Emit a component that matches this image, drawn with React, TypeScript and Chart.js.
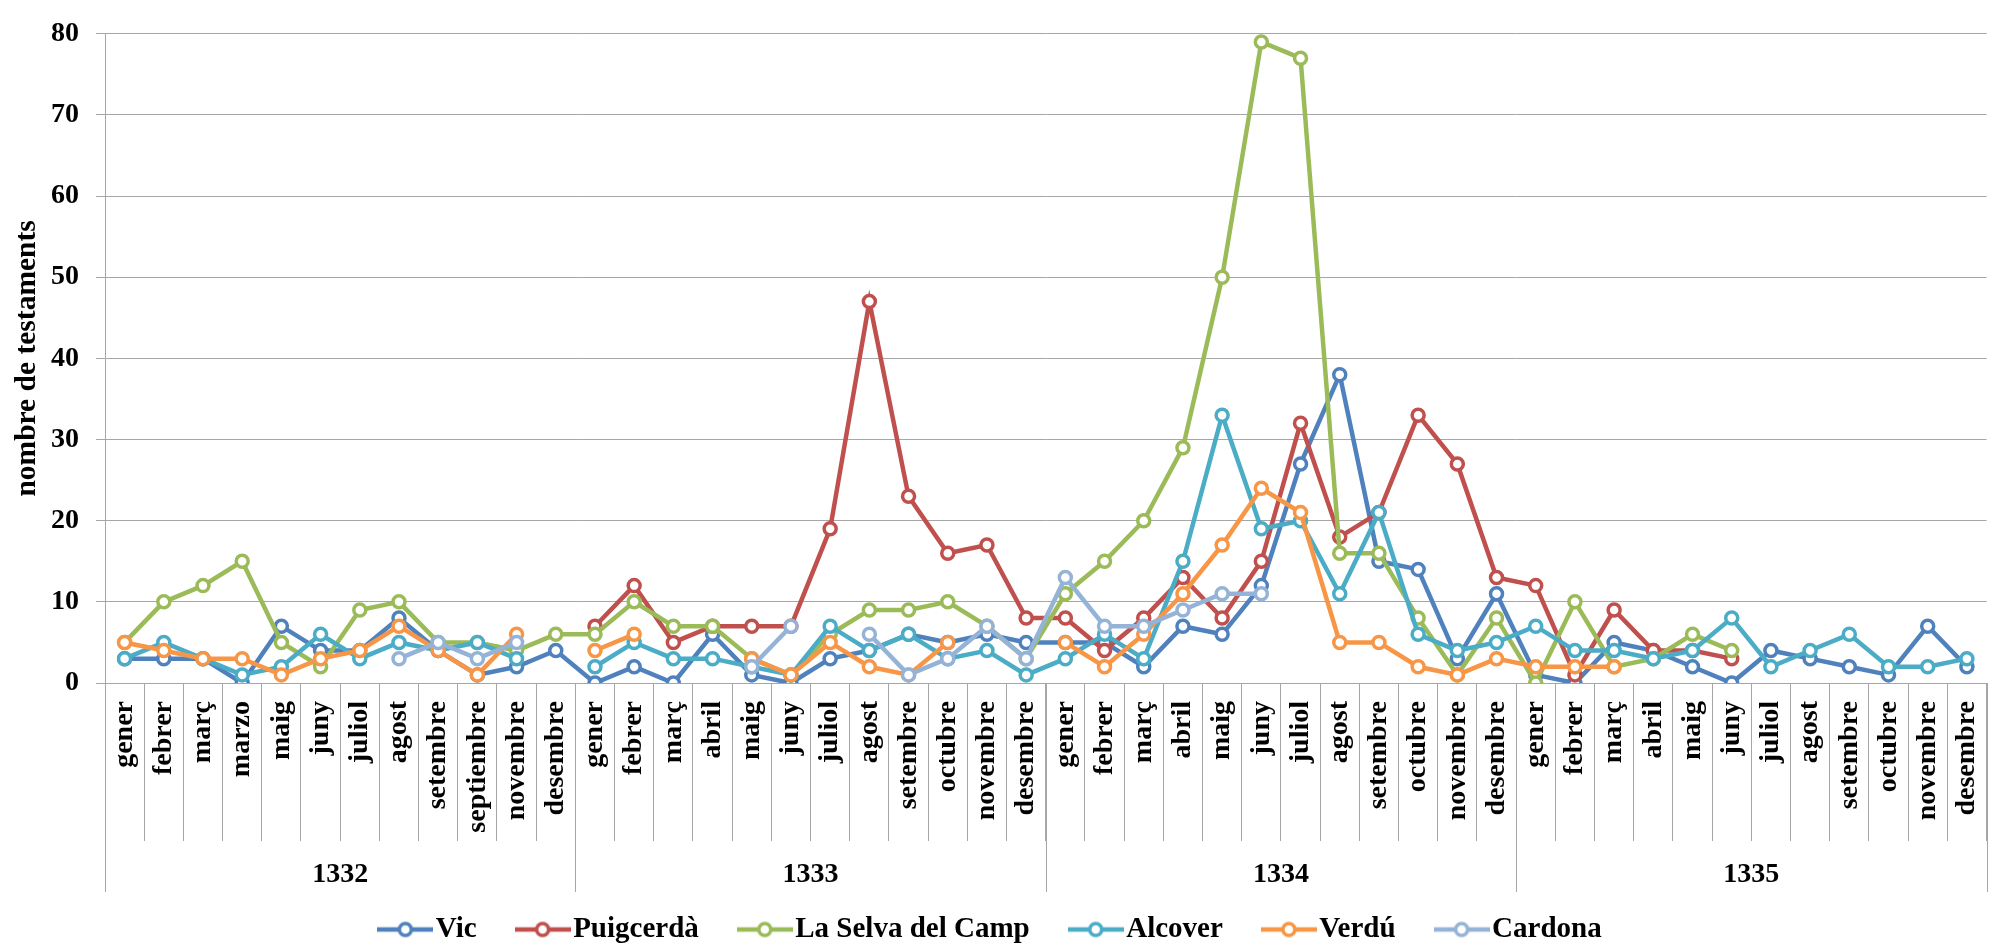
import React, { useEffect, useRef } from "react";
import { Chart, registerables } from "chart.js";

Chart.register(...registerables);

const years = ["1332", "1333", "1334", "1335"];
const months1332 = ["gener", "febrer", "març", "marzo", "maig", "juny", "juliol", "agost", "setembre", "septiembre", "novembre", "desembre"];
const monthsStd = ["gener", "febrer", "març", "abril", "maig", "juny", "juliol", "agost", "setembre", "octubre", "novembre", "desembre"];

const seriesNames = ["Vic", "Puigcerdà", "La Selva del Camp", "Alcover", "Verdú", "Cardona"];
const seriesColors = ["#4F81BD", "#C0504D", "#9BBB59", "#4BACC6", "#F79646", "#95B3D7"];

const vic = [3, 3, 3, 0, 7, 4, 4, 8, 4, 1, 2, 4,
  0, 2, 0, 6, 1, 0, 3, 4, 6, 5, 6, 5,
  5, 5, 2, 7, 6, 12, 27, 38, 15, 14, 3, 11,
  1, 0, 5, 4, 2, 0, 4, 3, 2, 1, 7, 2];
const puigcerda = [null, null, null, null, null, null, null, null, null, null, null, null,
  7, 12, 5, 7, 7, 7, 19, 47, 23, 16, 17, 8,
  8, 4, 8, 13, 8, 15, 32, 18, 21, 33, 27, 13,
  12, 1, 9, 4, 4, 3, null, null, null, null, null, null];
const selva = [5, 10, 12, 15, 5, 2, 9, 10, 5, 5, 4, 6,
  6, 10, 7, 7, 3, 1, 6, 9, 9, 10, 7, 3,
  11, 15, 20, 29, 50, 79, 77, 16, 16, 8, 1, 8,
  0, 10, 2, 3, 6, 4, null, null, null, null, null, null];
const alcover = [3, 5, 3, 1, 2, 6, 3, 5, 4, 5, 3, null,
  2, 5, 3, 3, 2, 1, 7, 4, 6, 3, 4, 1,
  3, 6, 3, 15, 33, 19, 20, 11, 21, 6, 4, 5,
  7, 4, 4, 3, 4, 8, 2, 4, 6, 2, 2, 3];
const verdu = [5, 4, 3, 3, 1, 3, 4, 7, 4, 1, 6, null,
  4, 6, null, null, 3, 1, 5, 2, 1, 5, null, null,
  5, 2, 6, 11, 17, 24, 21, 5, 5, 2, 1, 3,
  2, 2, 2, null, null, null, null, null, null, null, null, null];
const cardona = [null, null, null, null, null, null, null, 3, 5, 3, 5, null,
  null, null, null, null, 2, 7, null, 6, 1, 3, 7, 3,
  13, 7, 7, 9, 11, 11, null, null, null, null, null, null,
  null, null, null, null, null, null, null, null, null, null, null, null];

const yTicks = [0, 10, 20, 30, 40, 50, 60, 70, 80];

const FONT = '"Liberation Serif", "Times New Roman", serif';
const GRID = "#A6A6A6";

function makeIcon(color: string) {
  const c = document.createElement("canvas");
  c.width = 56;
  c.height = 20;
  const g = c.getContext("2d")!;
  g.strokeStyle = color;
  g.lineWidth = 4.5;
  g.beginPath();
  g.moveTo(0, 10);
  g.lineTo(56, 10);
  g.stroke();
  g.beginPath();
  g.arc(28, 10, 6, 0, Math.PI * 2);
  g.fillStyle = "#ffffff";
  g.fill();
  g.lineWidth = 3.5;
  g.stroke();
  return c;
}

const yearAxisPlugin = {
  id: "yearAxis",
  afterDraw(chart: any) {
    const { ctx, chartArea } = chart;
    const x = chart.scales.x;
    const n = chart.data.labels.length;
    const per = n / years.length;
    const half = (x.getPixelForValue(1) - x.getPixelForValue(0)) / 2;
    ctx.save();
    ctx.strokeStyle = GRID;
    ctx.lineWidth = 1;
    for (let k = 0; k <= years.length; k++) {
      const bx = Math.round(x.getPixelForValue(k * per) - half) + 0.5;
      ctx.beginPath();
      ctx.moveTo(bx, chartArea.bottom);
      ctx.lineTo(bx, chartArea.bottom + 209);
      ctx.stroke();
    }
    ctx.fillStyle = "#000";
    ctx.font = `bold 28px ${FONT}`;
    ctx.textAlign = "center";
    ctx.textBaseline = "middle";
    for (let k = 0; k < years.length; k++) {
      const cx = (x.getPixelForValue(k * per) + x.getPixelForValue((k + 1) * per - 1)) / 2;
      ctx.fillText(years[k], cx, chartArea.bottom + 192);
    }
    ctx.restore();
  },
};

export default function App() {
  const ref = useRef<HTMLCanvasElement>(null);

  useEffect(() => {
    const labels = [...months1332, ...monthsStd, ...monthsStd, ...monthsStd];
    const values = [vic, puigcerda, selva, alcover, verdu, cardona];
    const icons = seriesColors.map((c) => makeIcon(c));
    const datasets = values.map((v, i) => ({
      label: seriesNames[i],
      data: v,
      borderColor: seriesColors[i],
      backgroundColor: seriesColors[i],
      borderWidth: 4.5,
      pointRadius: 6,
      pointBorderWidth: 3.5,
      pointBackgroundColor: "#ffffff",
      pointBorderColor: seriesColors[i],
      tension: 0,
      spanGaps: false,
      order: values.length - i,
    }));

    const chart = new Chart(ref.current!, {
      type: "line",
      data: { labels, datasets },
      plugins: [yearAxisPlugin],
      options: {
        responsive: false,
        animation: false,
        layout: { padding: { top: 17, right: 5, bottom: -5, left: 0 } },
        plugins: {
          tooltip: { enabled: false },
          legend: {
            position: "bottom",
            labels: {
              usePointStyle: true,
              pointStyleWidth: 32,
              padding: 50,
              color: "#000",
              font: { family: FONT, size: 29, weight: "bold" },
              generateLabels: (ch: any) =>
                ch.data.datasets.map((ds: any, i: number) => ({
                  text: ds.label,
                  fillStyle: ds.borderColor,
                  strokeStyle: ds.borderColor,
                  lineWidth: 0,
                  hidden: !ch.isDatasetVisible(i),
                  datasetIndex: i,
                  pointStyle: icons[i],
                  fontColor: "#000",
                })),
            },
          },
        },
        scales: {
          x: {
            type: "category",
            offset: true,
            grid: {
              display: true,
              offset: true,
              drawOnChartArea: false,
              drawTicks: true,
              tickLength: 158,
              color: GRID,
              lineWidth: 1,
            },
            border: { display: true, color: GRID, width: 1 },
            ticks: {
              autoSkip: false,
              minRotation: 90,
              maxRotation: 90,
              padding: -140,
              color: "#000",
              font: { family: FONT, size: 28, weight: "bold" },
            },
            afterFit: (s: any) => {
              s.height = 182;
            },
          },
          y: {
            min: 0,
            max: 80,
            afterBuildTicks: (s: any) => {
              s.ticks = yTicks.map((v) => ({ value: v }));
            },
            grid: {
              color: GRID,
              lineWidth: 1,
              drawTicks: true,
              tickLength: 9,
            },
            border: { display: true, color: GRID, width: 1 },
            ticks: {
              padding: 17,
              color: "#000",
              font: { family: FONT, size: 28, weight: "bold" },
            },
            title: {
              display: true,
              text: "nombre de testaments",
              color: "#000",
              padding: { top: 10, bottom: 0 },
              font: { family: FONT, size: 29.5, weight: "bold" },
            },
            afterFit: (s: any) => {
              s.width = 105;
            },
          },
        },
      },
    });
    return () => chart.destroy();
  }, []);

  return (
    <div style={{ position: "fixed", left: 0, top: 0, width: 1996, height: 949, background: "#fff", overflow: "hidden" }}>
      <canvas ref={ref} width={1996} height={949} style={{ width: 1996, height: 949, display: "block" }} />
    </div>
  );
}
